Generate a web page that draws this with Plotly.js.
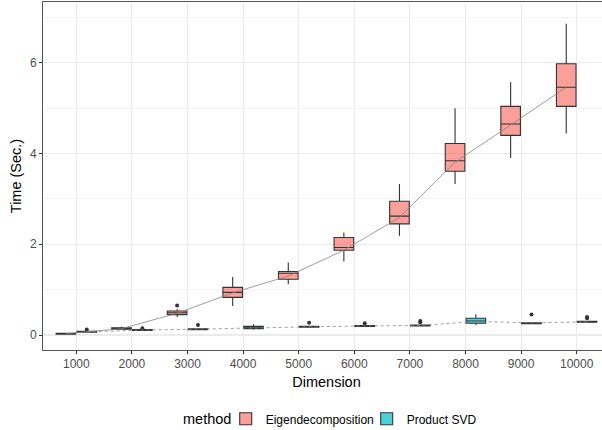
<!DOCTYPE html>
<html>
<head>
<meta charset="utf-8">
<script src="https://cdn.plot.ly/plotly-3.0.1.min.js"></script>
<style>
html, body { margin: 0; padding: 0; overflow: hidden; background: #fff; }
#chart { width: 610px; height: 430px; }
</style>
</head>
<body>
<div id="chart"></div>
<script>
// Categories (dimension)
var dims = ['1000','2000','3000','4000','5000','6000','7000','8000','9000','10000'];

// Eigendecomposition box statistics (seconds)
var eigLow = [0.02, 0.12, 0.40, 0.64, 1.12, 1.62, 2.19, 3.33, 3.90, 4.44];
var eigQ1  = [0.02, 0.13, 0.45, 0.83, 1.23, 1.87, 2.45, 3.61, 4.40, 5.04];
var eigMed = [0.03, 0.15, 0.49, 0.94, 1.36, 1.93, 2.62, 3.84, 4.65, 5.46];
var eigQ3  = [0.04, 0.16, 0.53, 1.05, 1.40, 2.15, 2.95, 4.22, 5.04, 5.98];
var eigHigh= [0.04, 0.18, 0.57, 1.28, 1.60, 2.26, 3.33, 5.00, 5.57, 6.86];
var eigMean= [0.03, 0.14, 0.48, 0.93, 1.30, 1.87, 2.59, 3.81, 4.63, 5.46];

// Product SVD box statistics (seconds)
var svdLow = [0.06, 0.10, 0.12, 0.12, 0.16, 0.18, 0.19, 0.22, 0.25, 0.27];
var svdQ1  = [0.06, 0.10, 0.12, 0.14, 0.17, 0.19, 0.20, 0.26, 0.25, 0.28];
var svdMed = [0.07, 0.11, 0.13, 0.16, 0.18, 0.20, 0.21, 0.31, 0.26, 0.29];
var svdQ3  = [0.08, 0.12, 0.14, 0.19, 0.19, 0.21, 0.22, 0.37, 0.27, 0.30];
var svdHigh= [0.09, 0.13, 0.15, 0.24, 0.20, 0.22, 0.23, 0.46, 0.28, 0.31];
var svdMean= [0.07, 0.11, 0.13, 0.16, 0.18, 0.20, 0.21, 0.30, 0.27, 0.29];

// Outliers
var eigOutX = ['3000'];
var eigOutY = [0.65];
var svdOutX = ['1000','2000','3000','5000','6000','7000','7000','9000','10000','10000'];
var svdOutY = [0.12, 0.15, 0.22, 0.27, 0.26, 0.28, 0.31, 0.45, 0.37, 0.40];

var legendTitle = 'method';

var boxLine = {color: '#333333', width: 1.1};

var traces = [
  {
    type: 'box', name: 'Eigendecomposition', x: dims,
    q1: eigQ1, median: eigMed, q3: eigQ3, lowerfence: eigLow, upperfence: eigHigh,
    fillcolor: 'rgba(248,118,109,0.7)', line: boxLine, whiskerwidth: 0,
    boxpoints: false, offsetgroup: 'eig', hoverinfo: 'skip'
  },
  {
    type: 'box', name: 'Product SVD', x: dims,
    q1: svdQ1, median: svdMed, q3: svdQ3, lowerfence: svdLow, upperfence: svdHigh,
    fillcolor: 'rgba(0,191,196,0.7)', line: boxLine, whiskerwidth: 0,
    boxpoints: false, offsetgroup: 'svd', hoverinfo: 'skip'
  },
  {
    type: 'scatter', mode: 'markers', x: eigOutX, y: eigOutY, showlegend: false,
    marker: {color: '#333333', size: 4}, offsetgroup: 'eig', alignmentgroup: 'out', hoverinfo: 'skip'
  },
  {
    type: 'scatter', mode: 'markers', x: svdOutX, y: svdOutY, showlegend: false,
    marker: {color: '#333333', size: 4}, offsetgroup: 'svd', alignmentgroup: 'out', hoverinfo: 'skip'
  },
  {
    type: 'scatter', mode: 'lines', x: dims, y: eigMean, xaxis: 'x2', showlegend: false,
    line: {color: '#858585', width: 0.8}, hoverinfo: 'skip'
  },
  {
    type: 'scatter', mode: 'lines', x: dims, y: svdMean, xaxis: 'x2', showlegend: false,
    line: {color: '#858585', width: 0.8, dash: 'dot'}, hoverinfo: 'skip'
  }
];

var xCommon = {
  type: 'category', categoryorder: 'array', categoryarray: dims,
  range: [-0.6, 9.6]
};

var layout = {
  width: 610, height: 430,
  margin: {l: 43, r: 0, t: 2, b: 80},
  paper_bgcolor: '#ffffff', plot_bgcolor: '#ffffff',
  font: {family: 'Liberation Sans, Arial, sans-serif', color: '#000'},
  boxmode: 'group', boxgap: 0.25, boxgroupgap: 0.06,
  scattermode: 'group', scattergap: 0.25,
  showlegend: true,
  legend: {
    orientation: 'h', xref: 'container', yref: 'container',
    x: 0.370, xanchor: 'left', y: 0.026, yanchor: 'middle',
    font: {size: 12, color: '#000'}, itemwidth: 30, tracegroupgap: 0,
    entrywidth: 96, entrywidthmode: 'pixels'
  },
  annotations: [{
    text: legendTitle, xref: 'paper', yref: 'paper',
    x: 0.244, xanchor: 'left', y: -0.198, yanchor: 'middle',
    showarrow: false, font: {size: 14.5, color: '#000'}
  }],
  xaxis: Object.assign({}, xCommon, {
    showgrid: true, gridcolor: '#EBEBEB', gridwidth: 1.1,
    ticks: 'outside', ticklen: 3, tickcolor: '#333333', tickwidth: 1,
    tickfont: {size: 12, color: '#4D4D4D'},
    showline: true, linecolor: '#555555', linewidth: 1, mirror: true,
    zeroline: false,
    title: {text: 'Dimension', font: {size: 14.5, color: '#000'}, standoff: 6}
  }),
  xaxis2: Object.assign({}, xCommon, {overlaying: 'x', visible: false}),
  yaxis: {
    range: [-0.33, 7.34], tickmode: 'array', tickvals: [0, 2, 4, 6],
    showgrid: true, gridcolor: '#EBEBEB', gridwidth: 1.1,
    minor: {tickmode: 'array', tickvals: [1, 3, 5, 7], showgrid: true, gridcolor: '#EBEBEB', gridwidth: 0.6, ticks: ''},
    ticks: 'outside', ticklen: 3, tickcolor: '#333333', tickwidth: 1,
    tickfont: {size: 12, color: '#4D4D4D'},
    showline: true, linecolor: '#555555', linewidth: 1, mirror: true,
    zeroline: false,
    title: {text: 'Time (Sec.)', font: {size: 14.5, color: '#000'}, standoff: 4}
  }
};

Plotly.newPlot('chart', traces, layout, {displayModeBar: false, staticPlot: true});
</script>
</body>
</html>
